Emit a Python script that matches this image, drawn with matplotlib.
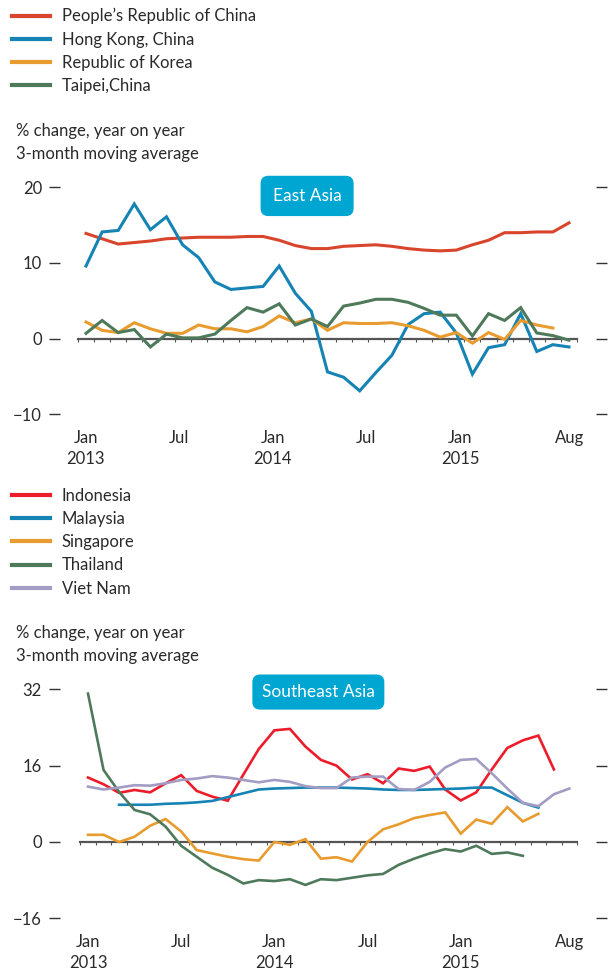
import numpy as np
import matplotlib
matplotlib.use("Agg")
import matplotlib.pyplot as plt
from matplotlib.lines import Line2D

plt.rcParams['font.family'] = ['Lato', 'DejaVu Sans']

nan = np.nan
TEXT = '#2a2a2a'
FS = 12

# ---------------- data ----------------
east_names = ["People\u2019s Republic of China", "Hong Kong, China", "Republic of Korea", "Taipei,China"]
east_colors = ['#D8452C', '#1583B4', '#E89B2E', '#4E7A5B']
china = [13.9, 13.2, 12.5, 12.7, 12.9, 13.2, 13.3, 13.4, 13.4, 13.4, 13.5, 13.5, 13.0, 12.3, 11.9, 11.9,
         12.2, 12.3, 12.4, 12.2, 11.9, 11.7, 11.6, 11.7, 12.4, 13.0, 14.0, 14.0, 14.1, 14.1, 15.3]
hongkong = [9.6, 14.1, 14.3, 17.8, 14.4, 16.1, 12.4, 10.7, 7.5, 6.5, 6.7, 6.9, 9.6, 6.0, 3.6, -4.4,
            -5.1, -6.9, -4.5, -2.2, 1.85, 3.3, 3.5, 0.75, -4.7, -1.2, -0.8, 3.3, -1.7, -0.8, -1.1]
korea = [2.2, 1.1, 0.8, 2.1, 1.3, 0.7, 0.7, 1.8, 1.3, 1.3, 0.9, 1.6, 3.0, 2.1, 2.6, 1.1,
         2.1, 2.0, 2.0, 2.1, 1.7, 1.1, 0.2, 0.8, -0.6, 0.8, -0.1, 2.4, 1.8, 1.4, nan]
taipei = [0.7, 2.4, 0.8, 1.2, -1.1, 0.6, 0.1, 0.1, 0.6, 2.4, 4.1, 3.5, 4.6, 1.8, 2.6, 1.6,
          4.3, 4.7, 5.2, 5.2, 4.8, 4.0, 3.1, 3.1, 0.35, 3.3, 2.4, 4.1, 0.75, 0.4, -0.2]
east_series = [china, hongkong, korea, taipei]

se_names = ["Indonesia", "Malaysia", "Singapore", "Thailand", "Viet Nam"]
se_colors = ['#EC1C2A', '#1583B4', '#E89B2E', '#4E7A5B', '#A39DC4']
indonesia = [13.5, 12.1, 10.3, 10.9, 10.4, 12.3, 14.0, 10.7, 9.5, 8.65, 14.1, 19.5, 23.4, 23.7, 20.0, 17.2,
             16.0, 13.1, 14.2, 12.3, 15.4, 14.9, 15.8, 11.0, 8.7, 10.4, 15.2, 19.7, 21.3, 22.3, 15.2, nan]
malaysia = [nan, nan, 7.8, 7.8, 7.8, 8.0, 8.1, 8.3, 8.6, 9.4, 10.2, 11.0, 11.2, 11.3, 11.4, 11.4,
            11.4, 11.3, 11.2, 11.0, 10.9, 10.9, 11.0, 11.1, 11.2, 11.4, 11.4, 9.8, 8.2, 7.2, nan, nan]
singapore = [1.5, 1.5, 0.0, 1.1, 3.4, 4.8, 2.2, -1.7, -2.4, -3.1, -3.6, -3.9, 0.0, -0.6, 0.6, -3.5,
             -3.2, -4.1, 0.0, 2.65, 3.7, 5.0, 5.65, 6.2, 1.75, 4.7, 3.8, 7.3, 4.3, 5.9, nan, nan]
thailand = [31.1, 15.1, 10.5, 6.7, 5.8, 3.2, -0.8, -3.1, -5.4, -6.9, -8.7, -8.0, -8.2, -7.8, -9.0, -7.8,
            -8.0, -7.5, -7.0, -6.7, -4.8, -3.5, -2.4, -1.5, -2.0, -0.8, -2.5, -2.2, -2.9, nan, nan, nan]
vietnam = [11.6, 11.0, 11.4, 11.9, 11.8, 12.3, 13.0, 13.3, 13.8, 13.5, 13.0, 12.5, 13.0, 12.6, 11.7, 11.3,
           11.3, 13.5, 13.7, 13.7, 11.1, 10.9, 12.6, 15.6, 17.2, 17.4, 14.4, 11.2, 8.2, 7.5, 10.0, 11.2]
se_series = [indonesia, malaysia, singapore, thailand, vietnam]

tick_months = [0, 6, 12, 18, 24, 31]          # months since Jan 2013
tick_labels = ["Jan\n2013", "Jul", "Jan\n2014", "Jul", "Jan\n2015", "Aug"]
east_yticks = [-10, 0, 10, 20]
se_yticks = [-16, 0, 16, 32]
subtitle = "% change, year on year\n3-month moving average"

# ---------------- layout ----------------
W, H = 615, 971
fig = plt.figure(figsize=(W / 100, H / 100), dpi=100)

def fx(px):
    return px / W

def fy(py):
    return 1 - py / H

AX_L, AX_R = 60, 596

def make_axes(top_px, bot_px, first_px, step_px, n, ylim, yticks, series, colors, lw, label, box_frac, boxpad):
    ax = fig.add_axes([fx(AX_L), fy(bot_px), fx(AX_R - AX_L), (bot_px - top_px) / H])
    x = np.arange(n)
    ax.set_xlim((AX_L - first_px) / step_px, (AX_R - first_px) / step_px)
    ax.set_ylim(*ylim)
    for s, c in zip(series, colors):
        ax.plot(x, s, color=c, lw=lw, solid_joinstyle='miter', zorder=3)
    # zero line with monthly ticks
    for side in ['left', 'right', 'top']:
        ax.spines[side].set_visible(False)
    sp = ax.spines['bottom']
    sp.set_position(('data', 0))
    sp.set_bounds(-0.5, n - 0.5)
    sp.set_color('#555555')
    sp.set_linewidth(1.6)
    sp.set_zorder(2)
    ax.set_xticks([])
    ax.set_xticks(np.arange(-0.5, n), minor=True)
    ax.tick_params(axis='x', which='minor', length=2.5, width=0.8, color='#555555', direction='out')
    # y ticks on both sides
    ax.set_yticks(yticks)
    ax.set_yticklabels([str(v).replace('-', '\u2212') for v in yticks])
    ax.tick_params(axis='y', which='major', left=True, right=True, direction='out',
                   length=8, width=1.0, color='#333333', pad=5, labelsize=FS, labelcolor=TEXT)
    for t, v in zip(ax.yaxis.get_major_ticks(), yticks):
        if v == 0:
            t.tick1line.set_color('#999999')
            t.tick2line.set_color('#999999')
    # date labels on the common 32-month grid
    pos = [(m + 0.5) * n / 32 - 0.5 for m in tick_months]
    sec = ax.secondary_xaxis('bottom')
    sec.set_xticks(pos)
    sec.set_xticklabels(tick_labels, linespacing=1.45)
    sec.tick_params(length=0, pad=11, labelsize=FS, labelcolor=TEXT)
    sec.spines['bottom'].set_visible(False)
    ax.text(box_frac[0], box_frac[1], label, transform=ax.transAxes, ha='center', va='center',
            color='white', fontsize=12.5, zorder=5,
            bbox=dict(boxstyle='round,pad=%s,rounding_size=0.45' % boxpad, fc='#00A6D2', ec='none'))
    return ax

make_axes(187.3, 414.3, 86, 16.1, 31, (-10, 20), east_yticks, east_series, east_colors, 2.2,
          "East Asia", (0.461, 0.962), 0.7)
make_axes(689.3, 918.3, 88, 15.53, 32, (-16, 32), se_yticks, se_series, se_colors, 1.9,
          "Southeast Asia", (0.482, 0.988), 0.55)

# legends
def legend(names, colors, top_px):
    handles = [Line2D([], [], color=c, lw=3.0) for c in colors]
    fig.legend(handles, names, loc='upper left', bbox_to_anchor=(fx(12), fy(top_px)),
               frameon=False, fontsize=FS, handlelength=2.3, handletextpad=0.7,
               labelspacing=0.43, borderpad=0, borderaxespad=0, labelcolor=TEXT)

legend(east_names, east_colors, 8)
legend(se_names, se_colors, 488)

fig.text(fx(16), fy(123), subtitle, ha='left', va='top', fontsize=FS, color=TEXT, linespacing=1.55)
fig.text(fx(16), fy(625), subtitle, ha='left', va='top', fontsize=FS, color=TEXT, linespacing=1.55)

fig.savefig("out.png", dpi=100)
